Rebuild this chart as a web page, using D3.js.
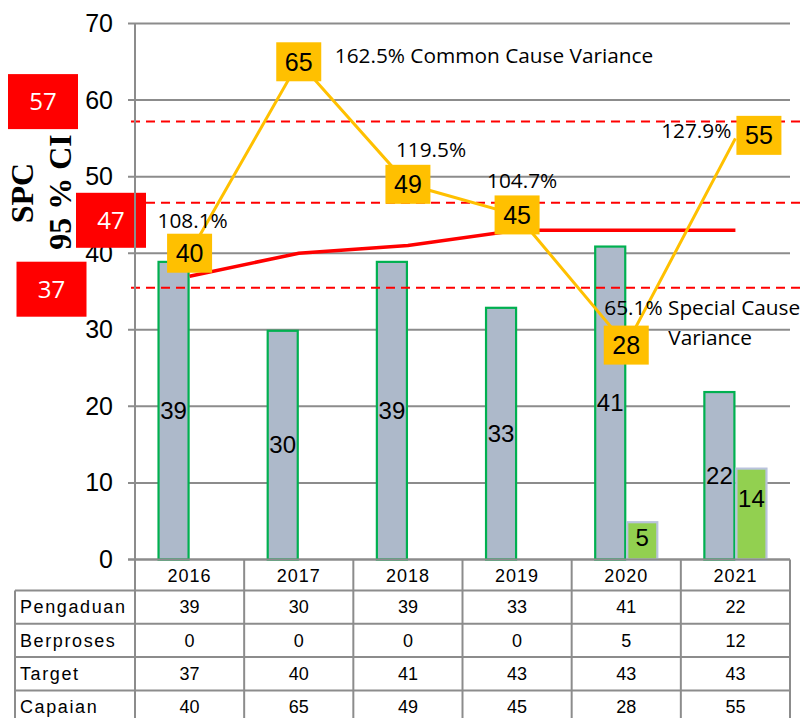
<!DOCTYPE html>
<html><head><meta charset="utf-8">
<script src="https://cdn.jsdelivr.net/npm/d3@7"></script>
<style>body{margin:0;background:#fff}svg{display:block}</style>
</head><body>
<script>
// ---- data ----
const years = ["2016","2017","2018","2019","2020","2021"];
const pengaduan = [39,30,39,33,41,22];
const berproses = [0,0,0,0,5,12];
const berprosesLabels = ["","","","","5","14"];
const target = [37,40,41,43,43,43];
const capaian = [40,65,49,45,28,55];
const capaianNotes = ["108.1%","162.5% Common Cause Variance","119.5%","104.7%","65.1% Special Cause","127.9%"];
const capaianNotes2 = ["","","","","Variance",""];
const controlLines = [57.2, 46.6, 35.5];
const controlLabels = ["57","47","37"];
const controlLabelPos = [59.8, 44.3, 35.3];
const yTicks = [0,10,20,30,40,50,60,70];
const rowNames = ["Pengaduan","Berproses","Target","Capaian"];
const rowValues = [pengaduan, berproses, target, capaian];

// ---- layout ----
const W = 801, H = 718;
const plotL = 135, plotR = 790, plotT = 23.5, plotB = 559.5;
const gridCol = "#8c8c8c";
const SANS = "'Liberation Sans', Arial, sans-serif";
const CAL = "'Open Sans', 'Noto Sans', sans-serif";

const svg = d3.select("body").append("svg").attr("width", W).attr("height", H);

const y = d3.scaleLinear().domain([0,70]).range([plotB, plotT]);
const x0 = d3.scaleBand().domain(years).range([plotL, plotR]).paddingInner(0).paddingOuter(0);
const x1 = d3.scaleBand().domain(["p","b"]).range([0, x0.bandwidth()]).paddingInner(0).paddingOuter(0.703);
const cx = (i) => x0(years[i]) + x0.bandwidth()/2;

// gridlines
svg.append("g").selectAll("line").data(yTicks).join("line")
  .attr("x1", plotL - 7).attr("x2", plotR)
  .attr("y1", d => y(d)).attr("y2", d => y(d))
  .attr("stroke", gridCol).attr("stroke-width", 2);

// y axis labels
const yAxis = svg.append("g").attr("transform", `translate(${plotL},0)`)
  .call(d3.axisLeft(y).tickValues(yTicks).tickSize(0).tickPadding(22).tickFormat(d3.format("d")));
yAxis.select(".domain").remove();
yAxis.selectAll("text").attr("font-family", SANS).attr("font-size", 25).attr("fill", "#000");

// y axis title
const tg = svg.append("g").attr("font-family", "'Liberation Serif', 'Times New Roman', serif")
  .attr("font-weight", "bold").attr("font-size", 32).attr("text-anchor", "middle");
tg.append("text").attr("transform", "translate(33,193) rotate(-90)").text("SPC");
tg.append("text").attr("transform", "translate(71,192) rotate(-90)").text("95 % CI");

// bars
const pData = pengaduan.map((v,i) => ({v, i, year: years[i]}));
const bData = berproses.map((v,i) => ({v, i, year: years[i], label: berprosesLabels[i]}));
const bars = svg.append("g");
bars.selectAll("rect.p").data(pData).join("rect").attr("class","p")
  .attr("x", d => x0(d.year) + x1("p") + 1)
  .attr("width", x1.bandwidth() - 2)
  .attr("y", d => y(d.v) + 1)
  .attr("height", d => y(0) - y(d.v) - 1)
  .attr("fill", "#adb9ca").attr("stroke", "#00b050").attr("stroke-width", 2.2);
bars.selectAll("rect.b").data(bData.filter(d => d.v > 0)).join("rect").attr("class","b")
  .attr("x", d => x0(d.year) + x1("b") + 1)
  .attr("width", x1.bandwidth() - 2)
  .attr("y", d => y(d.v) + 1)
  .attr("height", d => y(0) - y(d.v) - 1)
  .attr("fill", "#92d050").attr("stroke", "#b9c3dc").attr("stroke-width", 2.2);

// x axis line (0)
svg.append("line").attr("x1", plotL - 7).attr("x2", plotR).attr("y1", y(0)).attr("y2", y(0))
  .attr("stroke", gridCol).attr("stroke-width", 2);

// bar labels
svg.append("g").selectAll("text").data(pData).join("text")
  .attr("x", d => x0(d.year) + x1("p") + x1.bandwidth()/2)
  .attr("y", d => y(d.v/2)).attr("dy", "0.35em")
  .attr("text-anchor", "middle").attr("font-family", SANS).attr("font-size", 24)
  .text(d => d.v);
svg.append("g").selectAll("text").data(bData.filter(d => d.label)).join("text")
  .attr("x", d => x0(d.year) + x1("b") + x1.bandwidth()/2)
  .attr("y", d => y((+d.label)/2) - (+d.label > d.v ? 7 : 3)).attr("dy", "0.35em")
  .attr("text-anchor", "middle").attr("font-family", SANS).attr("font-size", 24)
  .text(d => d.label);

// control (dashed) lines
svg.append("g").selectAll("line").data(controlLines).join("line")
  .attr("x1", plotL - 4).attr("x2", W)
  .attr("y1", d => y(d)).attr("y2", d => y(d))
  .attr("stroke", "#ff0000").attr("stroke-width", 2).attr("stroke-dasharray", "9,6");

// target line
svg.append("path").datum(target)
  .attr("d", d3.line().x((d,i) => cx(i)).y(d => y(d)))
  .attr("fill", "none").attr("stroke", "#ff0000").attr("stroke-width", 3.5);

// capaian line
svg.append("path").datum(capaian)
  .attr("d", d3.line().x((d,i) => cx(i)).y(d => y(d)))
  .attr("fill", "none").attr("stroke", "#ffc000").attr("stroke-width", 3);

// capaian boxes
const bw = 45, bh = 39;
const boxCx = (i) => cx(i) + (i === capaian.length - 1 ? bw/2 + 1 : 0);
const boxCy = (d,i) => y(d) + (i === capaian.length - 1 ? -3 : 0);
const cb = svg.append("g").selectAll("g").data(capaian).join("g")
  .attr("transform", (d,i) => `translate(${boxCx(i)},${boxCy(d,i)})`);
cb.append("rect").attr("x", -bw/2).attr("y", -bh/2).attr("width", bw).attr("height", bh).attr("fill", "#ffc000");
cb.append("text").attr("text-anchor", "middle").attr("dy", "0.36em")
  .attr("font-family", SANS).attr("font-size", 25).text(d => d);

// annotations (offsets relative to points)
const noteOff = [[-32,-25,"start"],[36,1,"start"],[-12,-27,"start"],[-30,-27,"start"],[-22,-30,"start"],[-4,0,"end"]];
const ng = svg.append("g").attr("font-family", CAL).attr("font-size", 20.8).attr("fill", "#000");
capaianNotes.forEach((t,i) => {
  ng.append("text").attr("x", cx(i) + noteOff[i][0]).attr("y", y(capaian[i]) + noteOff[i][1])
    .attr("text-anchor", noteOff[i][2]).text(t);
  if (capaianNotes2[i]) {
    ng.append("text").attr("x", cx(i) + 42).attr("y", y(capaian[i]) + 0).text(capaianNotes2[i]);
  }
});

// control line label boxes
const rbX = [43, 111, 51.5];
const rb = svg.append("g").selectAll("g").data(controlLabels).join("g")
  .attr("transform", (d,i) => `translate(${rbX[i]},${y(controlLabelPos[i])})`);
rb.append("rect").attr("x", -35).attr("y", -27.5).attr("width", 70).attr("height", 55).attr("fill", "#ff0000");
rb.append("text").attr("text-anchor", "middle").attr("dy", "0.36em").attr("fill", "#fff")
  .attr("font-family", CAL).attr("font-size", 24).text(d => d);

// ---- data table ----
const tblL = 15, headB = 590.5, rowH = 33.3;
const tbl = svg.append("g");
const hLines = [headB, headB + rowH, headB + 2*rowH, headB + 3*rowH];
tbl.selectAll("line.h").data(hLines).join("line").attr("class","h")
  .attr("x1", tblL).attr("x2", plotR).attr("y1", d => d).attr("y2", d => d)
  .attr("stroke", gridCol).attr("stroke-width", 2);
// left border
tbl.append("line").attr("x1", tblL).attr("x2", tblL).attr("y1", headB).attr("y2", H)
  .attr("stroke", gridCol).attr("stroke-width", 2);
// y axis line / column borders
tbl.append("line").attr("x1", plotL).attr("x2", plotL).attr("y1", plotT).attr("y2", H)
  .attr("stroke", gridCol).attr("stroke-width", 2);
tbl.selectAll("line.v").data(years).join("line").attr("class","v")
  .attr("x1", d => x0(d) + x0.bandwidth()).attr("x2", d => x0(d) + x0.bandwidth())
  .attr("y1", y(0)).attr("y2", H)
  .attr("stroke", gridCol).attr("stroke-width", 2);
// header years
tbl.selectAll("text.yr").data(years).join("text").attr("class","yr")
  .attr("x", d => x0(d) + x0.bandwidth()/2).attr("y", 582)
  .attr("text-anchor", "middle").attr("font-family", SANS).attr("font-size", 18)
  .attr("letter-spacing", 1).text(d => d);
// rows
rowNames.forEach((name, r) => {
  const yc = headB + r*rowH + rowH/2;
  tbl.append("text").attr("x", 20).attr("y", yc).attr("dy", "0.35em")
    .attr("font-family", SANS).attr("font-size", 18).attr("letter-spacing", 1.6).text(name);
  rowValues[r].forEach((v, i) => {
    tbl.append("text").attr("x", cx(i)).attr("y", yc).attr("dy", "0.35em")
      .attr("text-anchor", "middle").attr("font-family", SANS).attr("font-size", 18).text(v);
  });
});
</script>
</body></html>
